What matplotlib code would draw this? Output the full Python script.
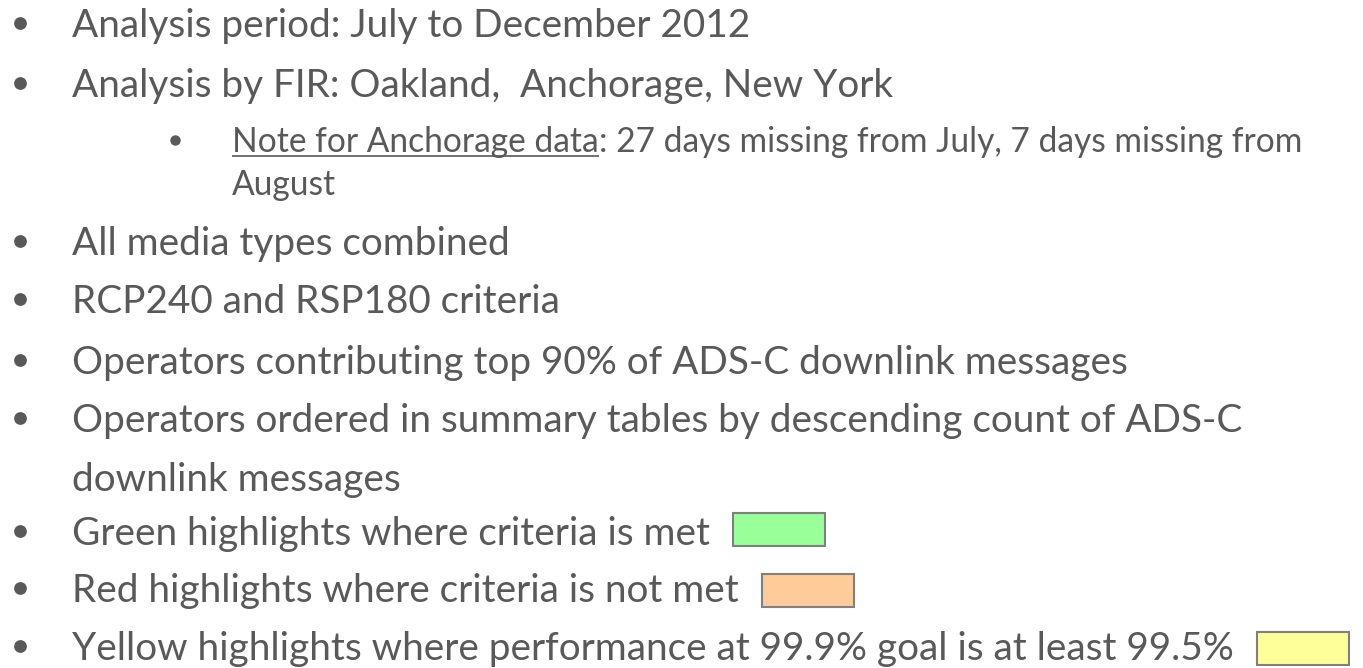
import matplotlib
matplotlib.use("Agg")
import matplotlib.pyplot as plt
from matplotlib.patches import Rectangle

# ---- content ----
lines = [
    "Analysis period: July to December 2012",
    "Analysis by FIR: Oakland,  Anchorage, New York",
    "All media types combined",
    "RCP240 and RSP180 criteria",
    "Operators contributing top 90% of ADS-C downlink messages",
    "Operators ordered in summary tables by descending count of ADS-C",
    "downlink messages",
    "Green highlights where criteria is met",
    "Red highlights where criteria is not met",
    "Yellow highlights where performance at 99.9% goal is at least 99.5%",
]
has_bullet = [True, True, True, True, True, True, False, True, True, True]
sub_underlined = "Note for Anchorage data"
sub_rest = ": 27 days missing from July, 7 days missing from"
sub_wrap = "August"
swatch_colors = ["#99FF99", "#FFCC99", "#FFFF99"]
swatch_lines = [7, 8, 9]

# ---- layout (pixels) ----
W, H = 1363, 668
main_x = 72
main_baselines = [37, 97, 255, 313, 374, 432, 491, 545, 602, 660]
# reference lines used to derive one common font size: (index, right edge)
fit_refs = [(0, 752), (1, 888), (9, 1237)]
sub_x = 232
sub_baselines = [152, 195]
sub_right = 1305
swatch_gap = 23
swatch_w, swatch_h = 92, 33
swatch_top = [513, 574, 632]
txt_color = "#595959"
font = ["Lato", "DejaVu Sans"]

fig = plt.figure(figsize=(W / 100, H / 100), dpi=100)
ax = fig.add_axes([0, 0, 1, 1])
ax.set_xlim(0, W)
ax.set_ylim(H, 0)
ax.axis("off")
renderer = fig.canvas.get_renderer()


def px_width(t):
    return t.get_window_extent(renderer).width


# main bullets, one common size
base = 28
texts = []
for s, b, y in zip(lines, has_bullet, main_baselines):
    t = ax.text(main_x, y, s, fontsize=base, va="baseline", ha="left",
                color=txt_color, family=font)
    texts.append(t)
    if b:
        ax.plot(20, y - 14, "o", ms=9.2, color=txt_color, mec="none")
ratios = [(r - main_x) / px_width(texts[i]) for i, r in fit_refs]
size = base * sum(ratios) / len(ratios)
for t in texts:
    t.set_fontsize(size)

# sub bullet line (with underlined lead)
sbase = 23
t1 = ax.text(sub_x, sub_baselines[0], sub_underlined, fontsize=sbase,
             va="baseline", color=txt_color, family=font)
t2 = ax.text(0, sub_baselines[0], sub_rest, fontsize=sbase,
             va="baseline", color=txt_color, family=font)
t3 = ax.text(sub_x, sub_baselines[1], sub_wrap, fontsize=sbase,
             va="baseline", color=txt_color, family=font)
w1, w2 = px_width(t1), px_width(t2)
ssize = sbase * (sub_right - sub_x) / (w1 + w2)
for t in (t1, t2, t3):
    t.set_fontsize(ssize)
w1 = px_width(t1)
t2.set_x(sub_x + w1)
ax.plot([sub_x, sub_x + w1], [sub_baselines[0] + 4, sub_baselines[0] + 4],
        color=txt_color, lw=1.2, solid_capstyle="butt")
ax.plot(175, sub_baselines[0] - 12, "o", ms=7.5, color=txt_color, mec="none")

# colour swatches, placed just after their line of text
for c, i, y in zip(swatch_colors, swatch_lines, swatch_top):
    x = main_x + px_width(texts[i]) + swatch_gap
    ax.add_patch(Rectangle((x, y), swatch_w, swatch_h, facecolor=c,
                           edgecolor="#808080", lw=1.5))

fig.savefig("out.png", dpi=100, facecolor="white")
